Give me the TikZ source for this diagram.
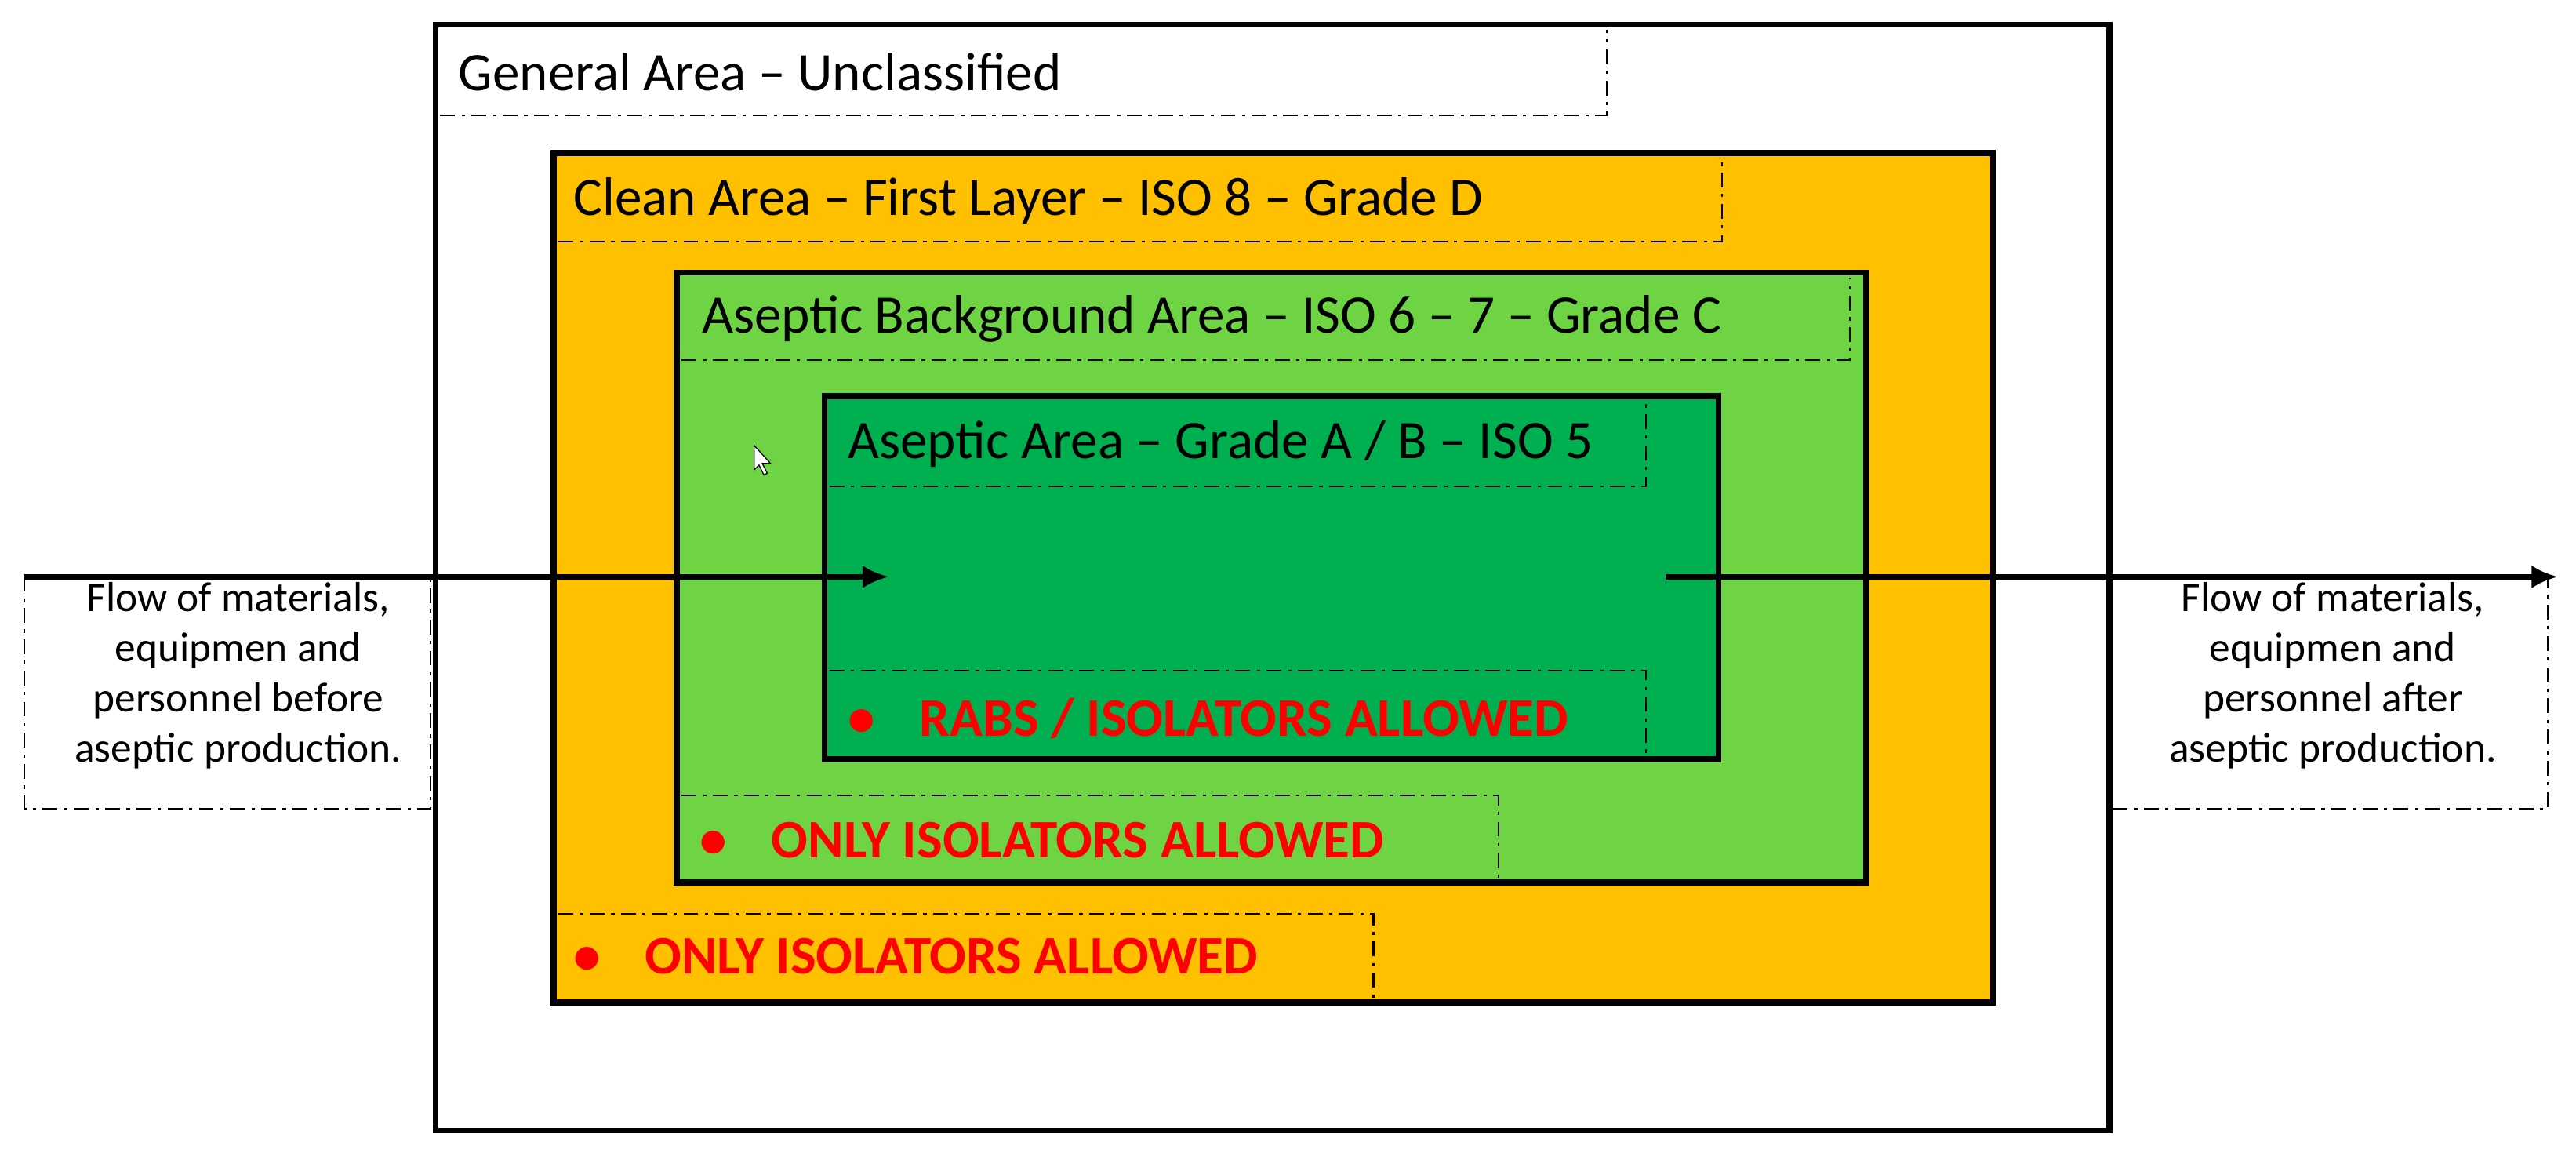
\documentclass[tikz,border=0pt]{standalone}
\usepackage{fontspec}
\setmainfont{Carlito}
\usetikzlibrary{arrows.meta}
\definecolor{orng}{HTML}{FFC000}
\definecolor{lgrn}{HTML}{6FD444}
\definecolor{dgrn}{HTML}{00B050}
\definecolor{rd}{HTML}{FF0000}
\tikzset{
 zone/.style={draw=black,line width=3.5pt},
 dd/.style={draw=black,line width=1pt,dash pattern=on 9pt off 4pt on 2pt off 4pt},
 lbl/.style={anchor=west,inner sep=0pt,font=\fontsize{33}{38}\selectfont},
 warn/.style={anchor=west,inner sep=0pt,text=rd,font=\bfseries\fontsize{33}{38}\selectfont},
 flow/.style={align=center,inner sep=0pt,font=\fontsize{25.5}{30.5}\selectfont},
 arr/.style={line width=3pt,-{Latex[length=16pt,width=14pt]}}
}
\begin{document}
\begin{tikzpicture}[x=1pt,y=-1pt]
\useasboundingbox (0,0) rectangle (1568,704);
\fill[white] (0,0) rectangle (1568,704);
\draw[zone,fill=white] (265,15) rectangle (1284,688);
\draw[zone,fill=orng] (337,93) rectangle (1213,610);
\draw[zone,fill=lgrn] (412,166) rectangle (1136,537);
\draw[zone,fill=dgrn] (502,241) rectangle (1046,462);
% label boxes
\draw[dd] (268,70) -- (978,70) -- (978,18);
\node[lbl] (tg) at (279,44) {General Area – Unclassified};
\draw[dd] (340,147) -- (1048,147) -- (1048,96);
\node[lbl] (tc) at (349,122) {Clean Area – First Layer – ISO 8 – Grade D};
\draw[dd] (415,219) -- (1126,219) -- (1126,169);
\node[lbl] (tb) at (427,194) {Aseptic Background Area – ISO 6 – 7 – Grade C};
\draw[dd] (505,296) -- (1002,296) -- (1002,244);
\node[lbl] (ta) at (516,270) {Aseptic Area – Grade A / B – ISO 5};
% warnings
\draw[dd] (505,408) -- (1002,408) -- (1002,459);
\node[warn] (w1) at (516,437) {•\hspace{27pt}RABS / ISOLATORS ALLOWED};
\draw[dd] (415,484) -- (912,484) -- (912,534);
\node[warn] (w2) at (426,511) {•\hspace{27pt}ONLY ISOLATORS ALLOWED};
\draw[dd] (340,556) -- (836,556) -- (836,607);
\node[warn] (w3) at (349,582) {•\hspace{27pt}ONLY ISOLATORS ALLOWED};
% flows
\coordinate (l0) at (15,351);
\coordinate (l1) at (541,351);
\coordinate (r0) at (1014,351);
\coordinate (r1) at (1557,351);
\draw[dd] (15,351) -- (15,492) -- (262,492) -- (262,351);
\node[flow] (fl) at (145,411) {Flow of materials,\\equipmen and\\personnel before\\aseptic production.};
\draw[dd] (1286,492) -- (1551,492) -- (1551,351);
\node[flow] (fr) at (1420,411) {Flow of materials,\\equipmen and\\personnel after\\aseptic production.};
\draw[arr] (l0) -- (l1);
\draw[arr] (r0) -- (r1);
% cursor
\draw[black,fill=white,line width=0.6pt] (459,271) -- (459,286) -- (462,283) -- (465,289) -- (467,288) -- (464,282) -- (469,282) -- cycle;
\end{tikzpicture}
\end{document}
